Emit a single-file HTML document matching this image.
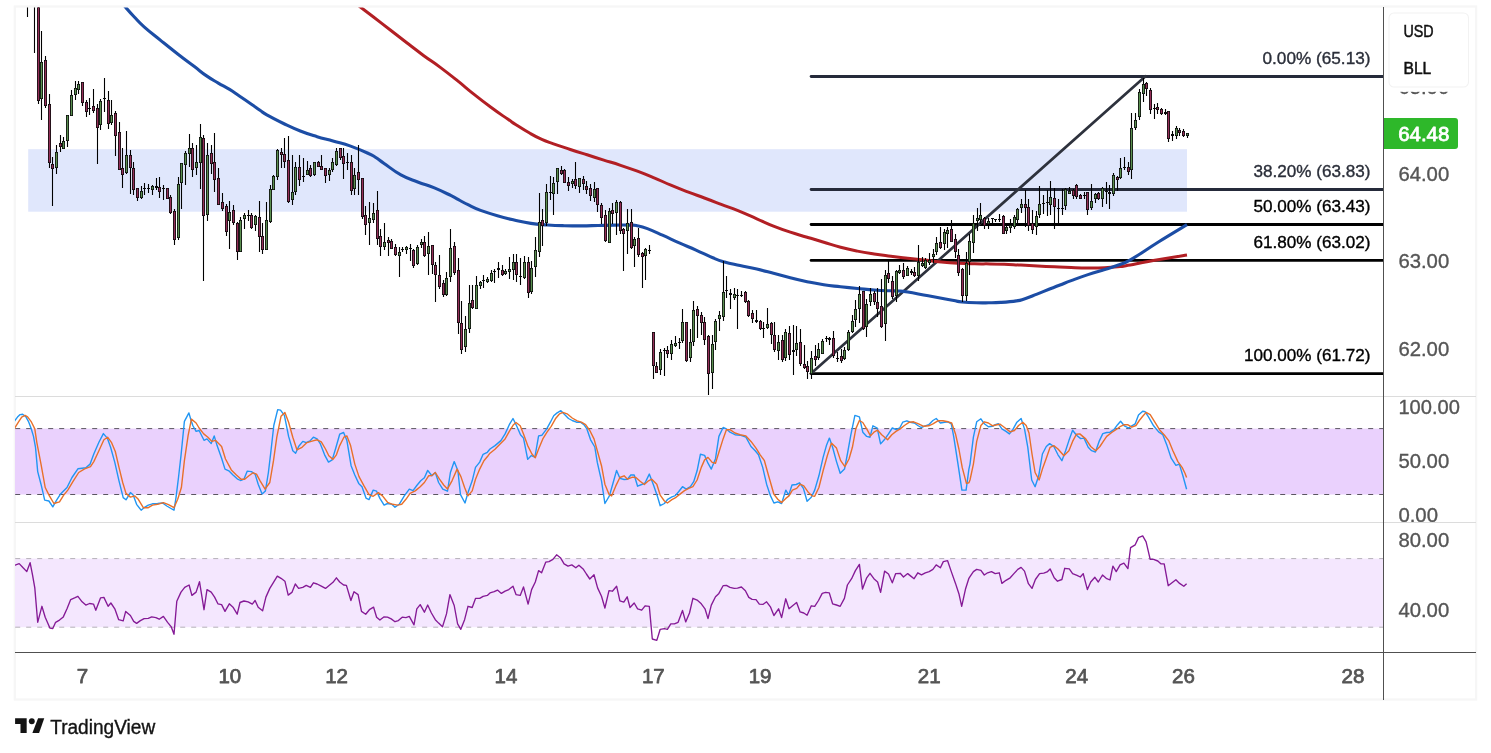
<!DOCTYPE html>
<html lang="en"><head><meta charset="utf-8"><title>TradingView chart</title>
<style>html,body{margin:0;padding:0;background:#fff;overflow:hidden}svg{display:block}text{font-family:'Liberation Sans', Arial, sans-serif}.w{stroke-width:0.35px;paint-order:stroke}</style>
</head><body>
<svg width="1491" height="753" viewBox="0 0 1491 753">
<rect width="1491" height="753" fill="#ffffff"/>
<rect x="14.8" y="6.5" width="1461.3" height="693" fill="#ffffff" stroke="#f6f6f6" stroke-width="2.2"/>
<defs><clipPath id="cm"><rect x="16" y="7.5" width="1367" height="389"/></clipPath><clipPath id="cs"><rect x="15" y="397" width="1368" height="125"/></clipPath><clipPath id="cr"><rect x="15" y="523" width="1368" height="129"/></clipPath></defs>
<g clip-path="url(#cm)">
<rect x="28.2" y="149.2" width="1158.8" height="62.5" fill="#e0e7fc"/>
<line x1="811.1" y1="76.5" x2="1386" y2="76.5" stroke="#252a3a" stroke-width="2.8" stroke-linecap="round"/>
<line x1="811.1" y1="189.5" x2="1386" y2="189.5" stroke="#252a3a" stroke-width="2.8" stroke-linecap="round"/>
<line x1="811.1" y1="224.5" x2="1386" y2="224.5" stroke="#000" stroke-width="2.8" stroke-linecap="round"/>
<line x1="811.1" y1="260.4" x2="1386" y2="260.4" stroke="#000" stroke-width="2.8" stroke-linecap="round"/>
<line x1="811.1" y1="373.6" x2="1386" y2="373.6" stroke="#000" stroke-width="2.8" stroke-linecap="round"/>
<line x1="811" y1="373.6" x2="1145.5" y2="76.3" stroke="#2e323d" stroke-width="2.7" stroke-linecap="round"/>
<path d="M359 6C362.4 8.6 366.2 11.4 373.5 17C380.8 22.6 382.5 24 390.3 30C398.1 36.1 399.3 37 407.1 43C414.9 49 416 49.9 423.8 55.7C431.6 61.4 432.8 61.8 440.6 67.6C448.4 73.4 449.6 74.4 457.4 80.7C465.2 86.9 466.3 88.2 474.1 94.4C481.9 100.6 483.1 101.5 490.9 107.3C498.7 113.1 501.8 115 507.7 119.1C513.6 123.1 510.8 121.4 516 124.7C521.2 128 524 129.9 530 133.3C536 136.8 536.3 137 541.8 139.4C547.3 141.9 546.9 141.5 553.5 143.8C560.1 146.2 562.5 146.9 570.3 149.5C578.1 152.1 579.3 152.4 587.1 154.8C594.9 157.3 596 157.6 603.8 160.1C611.6 162.5 612.8 162.7 620.6 165.3C628.4 167.9 629.6 168.3 637.4 171.2C645.2 174.1 646.3 174.6 654.1 177.9C661.9 181.1 663.1 181.9 670.9 185.1C678.7 188.4 679.9 188.8 687.7 191.8C695.5 194.8 696.6 195.1 704.4 198C712.2 200.9 713.4 201.4 721.2 204.4C729 207.3 729.7 207.3 738 210.6C746.3 214 748.5 215.2 756.8 218.8C765.1 222.4 765.7 223 773.5 226.1C781.3 229.2 782.5 229.6 790.3 232.2C798.1 234.7 799.3 234.8 807.1 237.2C814.9 239.5 816 239.8 823.8 242.2C831.6 244.5 832.8 245.1 840.6 247.2C848.4 249.3 849.6 249.5 857.4 251.1C865.2 252.7 866.3 252.8 874.1 254C881.9 255.1 883.1 255.2 890.9 256.2C898.7 257.2 899.9 257.3 907.7 258.2C915.5 259.1 916.6 259.2 924.4 260C932.2 260.9 933.4 261.1 941.2 261.9C949 262.6 950.2 262.7 958 263.2C965.8 263.6 967.2 263.6 974.7 263.8C982.2 264 983.1 263.8 990 263.9C996.9 264 996.9 264 1004.1 264.2C1011.3 264.5 1013.1 264.7 1020.9 265.1C1028.7 265.5 1029.9 265.6 1037.7 266C1045.5 266.4 1046.6 266.4 1054.4 266.8C1062.2 267.2 1063.4 267.3 1071.2 267.6C1079 267.9 1080.2 268 1088 268.1C1095.8 268.2 1097.2 268.2 1104.7 267.8C1112.2 267.5 1115.1 267.1 1120 266.6C1124.9 266.1 1117 267.3 1125.9 265.7C1134.8 264.1 1143.7 262.3 1158 259.8C1172.3 257.3 1180.2 256.1 1187 255" fill="none" stroke="#b21f24" stroke-width="3" stroke-linejoin="round" stroke-linecap="butt"/>
<path d="M124.5 6C126.7 8.5 129.5 11.9 134.1 16.7C138.7 21.6 137.8 21.3 144.1 26.8C150.4 32.4 153.1 34.2 160.9 40.6C168.7 46.9 169.9 47.9 177.7 54C185.5 60.1 187.8 61.6 194.4 66.6C201.1 71.7 200.7 71.9 206.2 75.6C211.7 79.4 212.4 79.6 217.9 82.8C223.4 86.1 224.5 86.3 229.6 89.4C234.7 92.5 234.6 92.8 239.7 96.2C244.8 99.6 246.7 100.9 251.4 104.2C256.1 107.5 256.4 107.8 260 110.3C263.6 112.8 261.3 111.8 266.8 114.9C272.3 118 275.7 119.7 283.5 123.5C291.3 127.2 292.5 127.9 300.3 131C308.1 134.1 309.3 134.3 317.1 136.7C324.9 139 326 138.9 333.8 141.2C341.6 143.4 342.8 143.4 350.6 146.1C358.4 148.9 361.5 150.3 367.4 153C373.3 155.6 371.9 155 375.8 157.5C379.7 159.9 378.2 159.3 384.1 163.4C390 167.5 393.1 170.6 400.9 174.9C408.7 179.2 409.9 179 417.7 182C425.5 185.1 426.6 184.7 434.4 187.9C442.2 191.1 445.2 192.8 451.2 195.7C457.2 198.7 456.1 198.4 460 200.5C463.9 202.6 463.2 202.4 468 204.7C472.8 207 473.7 207.8 480.6 210.4C487.5 212.9 489.6 213.5 497.4 215.7C505.2 218 506.3 218.2 514.1 220C521.9 221.8 523.1 222.3 530.9 223.4C538.7 224.6 539.9 224.4 547.7 225C555.5 225.5 556.6 225.5 564.4 225.7C572.2 225.9 573.4 225.9 581.2 225.9C589 225.8 590.2 225.7 598 225.5C605.8 225.3 607.2 225.2 614.7 225.1C622.2 225 624.8 225 630 225.1C635.2 225.3 632.9 224.9 637 225.7C641.1 226.5 641.4 226.4 647.4 228.6C653.4 230.8 655.1 231.8 662.5 235.2C669.9 238.5 671.5 239.4 679.3 242.9C687.1 246.4 688.2 246.6 696 250.1C703.8 253.6 706.1 255 712.8 257.8C719.5 260.6 718.3 260.2 724.6 262C730.9 263.8 732.5 263.9 740 265.6C747.5 267.2 749 267.3 756.8 269.1C764.6 270.9 765.7 271.3 773.5 273.3C781.3 275.3 782.5 275.7 790.3 277.7C798.1 279.7 799.3 280 807.1 281.7C814.9 283.3 816 283.6 823.8 284.8C831.6 286 832.8 285.9 840.6 286.8C848.4 287.6 849.6 287.7 857.4 288.5C865.2 289.2 866.3 289.5 874.1 290C881.9 290.6 885.3 290.6 890.9 290.8C896.5 291.1 894.2 290.7 898.1 291C902 291.3 900.8 290.9 907.8 292C914.8 293.1 917.9 293.9 928.3 295.8C938.7 297.8 944.5 298.9 952.4 300.3C960.3 301.8 956.5 301.4 962.1 302C967.7 302.5 970.4 302.6 976.6 302.8C982.8 303 983.1 302.9 988.7 302.8C994.3 302.7 994.2 302.8 1000.7 302.4C1007.2 302 1010.8 301.8 1016.4 300.9C1022 300.1 1020.1 300.3 1024.9 298.8C1029.7 297.2 1031.4 296.3 1037 294.1C1042.6 291.9 1043.6 291.5 1049 289.3C1054.4 287.2 1054.8 287.1 1060 285C1065.2 283 1064.7 283 1071.2 280.6C1077.7 278.2 1080.2 277.2 1088 274.6C1095.8 272 1097.2 271.8 1104.7 269.5C1112.2 267.1 1113.8 266.8 1120 264.5C1126.2 262.1 1122.3 264.6 1131.2 259.4C1140.1 254.2 1145 250.4 1158 242.2C1171 234.1 1180.2 228.7 1187 224.6" fill="none" stroke="#1c4da5" stroke-width="3.1" stroke-linejoin="round" stroke-linecap="butt"/>
<path d="M27.5 0V17M34.5 0V53M38.5 0V104M41.5 31V120M45.5 56V108M49.5 94V168M52.5 157V206M56.5 145V174M60.5 135V152M63.5 137V149M67.5 115V147M71.5 90V116M75.5 81V100M78.5 81V94M82.5 82V106M86.5 100V117M89.5 98V115M93.5 89V113M97.5 104V164M100.5 99V130M104.5 78V112M108.5 91V129M111.5 100V125M115.5 111V156M119.5 122V170M122.5 148V188M126.5 131V174M130.5 150V194M133.5 162V195M137.5 188V201M141.5 186V199M144.5 183V195M148.5 184V193M152.5 185V195M156.5 178V190M159.5 177V198M163.5 185V200M167.5 188V199M170.5 195V214M174.5 209V245M178.5 177V240M181.5 163V209M185.5 151V185M189.5 134V167M192.5 143V177M196.5 145V175M200.5 124V189M203.5 135V281M207.5 143V221M211.5 145V174M214.5 133V192M218.5 168V205M222.5 193V211M226.5 204V236M229.5 201V249M233.5 205V225M237.5 222V260M240.5 217V252M244.5 213V229M248.5 210V221M251.5 213V229M255.5 215V231M259.5 201V252M262.5 223V254M266.5 202V250M270.5 185V223M273.5 175V190M277.5 149V180M281.5 148V168M284.5 138V168M288.5 136V203M292.5 155V205M295.5 162V195M299.5 155V186M303.5 158V182M307.5 161V175M310.5 165V177M314.5 162V176M318.5 161V167M321.5 155V170M325.5 168V183M329.5 168V181M332.5 158V172M336.5 148V166M340.5 148V160M343.5 148V179M347.5 153V170M351.5 155V195M354.5 168V195M358.5 145V195M362.5 178V219M365.5 206V235M369.5 202V245M373.5 203V223M377.5 191V245M380.5 229V256M384.5 223V250M388.5 237V256M391.5 239V249M395.5 244V256M399.5 247V277M402.5 247V252M406.5 246V254M410.5 244V261M413.5 249V268M417.5 245V265M421.5 239V248M424.5 236V257M428.5 232V275M432.5 245V274M435.5 262V302M439.5 255V289M443.5 280V297M446.5 272V296M450.5 229V282M454.5 242V275M458.5 258V334M461.5 301V354M465.5 316V352M469.5 285V333M472.5 285V309M476.5 276V309M480.5 281V289M483.5 275V288M487.5 277V283M491.5 270V282M494.5 269V283M498.5 262V278M502.5 265V276M505.5 269V275M509.5 257V279M513.5 254V280M516.5 254V282M520.5 258V285M524.5 256V279M528.5 257V298M531.5 261V294M535.5 237V277M539.5 193V257M542.5 209V246M546.5 184V226M550.5 176V200M553.5 177V215M557.5 168V194M561.5 166V175M564.5 169V183M568.5 177V191M572.5 179V188M575.5 162V189M579.5 178V193M583.5 176V190M586.5 181V194M590.5 184V201M594.5 182V202M597.5 188V212M601.5 203V224M605.5 210V242M609.5 208V243M612.5 203V224M616.5 200V235M620.5 201V234M623.5 228V271M627.5 209V254M631.5 209V249M634.5 237V267M638.5 228V257M642.5 252V288M645.5 248V280M649.5 245V254M653.5 332V379M656.5 362V373M660.5 349V375M664.5 348V376M667.5 346V358M671.5 340V360M675.5 336V347M679.5 338V349M682.5 309V343M686.5 322V362M690.5 329V362M693.5 301V346M697.5 306V338M701.5 312V335M704.5 317V345M708.5 335V395M712.5 335V389M715.5 319V350M719.5 311V331M723.5 261V321M726.5 276V298M730.5 289V309M734.5 288V300M737.5 289V329M741.5 291V297M745.5 291V303M748.5 300V317M752.5 310V323M756.5 310V323M760.5 320V330M763.5 322V338M767.5 308V329M771.5 322V344M774.5 322V352M778.5 335V360M782.5 335V362M785.5 329V361M789.5 326V360M793.5 325V375M796.5 326V356M800.5 329V366M804.5 345V369M807.5 361V379M811.5 351V379M815.5 345V366M818.5 343V360M822.5 339V354M826.5 336V342M829.5 337V345M833.5 331V358M837.5 352V362M841.5 349V363M844.5 347V360M848.5 330V351M852.5 315V333M855.5 300V327M859.5 286V323M863.5 291V330M866.5 299V337M870.5 288V306M874.5 291V305M877.5 288V317M881.5 279V328M885.5 270V341M888.5 260V283M892.5 276V299M896.5 270V302M899.5 265V274M903.5 263V279M907.5 266V276M911.5 269V275M914.5 267V277M918.5 245V281M922.5 257V267M925.5 258V269M929.5 253V265M933.5 249V263M936.5 237V255M940.5 227V249M944.5 229V250M947.5 227V248M951.5 220V242M955.5 234V258M958.5 249V276M962.5 268V302M966.5 252V301M969.5 234V275M973.5 215V253M977.5 208V231M980.5 203V224M984.5 217V229M988.5 218V229M992.5 218V223M995.5 219V222M999.5 214V222M1003.5 215V234M1006.5 223V234M1010.5 219V233M1014.5 215V229M1017.5 208V223M1021.5 199V213M1025.5 190V227M1028.5 199V231M1032.5 210V234M1036.5 211V235M1039.5 186V218M1043.5 195V214M1047.5 190V216M1050.5 181V215M1054.5 188V229M1058.5 199V224M1062.5 189V215M1065.5 188V210M1069.5 187V194M1073.5 189V199M1076.5 184V199M1080.5 194V199M1084.5 192V199M1087.5 192V215M1091.5 184V210M1095.5 193V203M1098.5 192V200M1102.5 187V207M1106.5 182V204M1109.5 185V209M1113.5 173V196M1117.5 176V191M1120.5 158V179M1124.5 157V170M1128.5 162V175M1131.5 113V179M1135.5 113V130M1139.5 89V120M1143.5 78V102M1146.5 82V96M1150.5 88V114M1154.5 104V119M1157.5 103V114M1161.5 108V115M1165.5 109V115M1168.5 111V142M1172.5 131V141M1176.5 126V139M1179.5 128V136M1183.5 129V137M1187.5 133V138" stroke="#000" stroke-width="1.1" fill="none"/>
<path d="M26 0h3v1h-3zM33 0h3v1h-3zM37 0h3v101h-3zM40 62h3v37h-3zM44 60h3v46h-3zM48 104h3v59h-3zM51 164h3v5h-3zM55 152h3v16h-3zM59 143h3v4h-3zM62 141h3v8h-3zM66 115h3v26h-3zM70 95h3v21h-3zM74 88h3v7h-3zM77 84h3v6h-3zM81 82h3v21h-3zM85 102h3v10h-3zM88 108h3v1h-3zM92 106h3v5h-3zM96 108h3v20h-3zM99 101h3v24h-3zM103 98h3v1h-3zM107 100h3v24h-3zM110 115h3v8h-3zM114 113h3v23h-3zM118 132h3v38h-3zM121 168h3v7h-3zM125 155h3v18h-3zM129 155h3v13h-3zM132 168h3v22h-3zM136 188h3v10h-3zM140 191h3v7h-3zM143 188h3v1h-3zM147 188h3v1h-3zM151 186h3v4h-3zM155 186h3v2h-3zM158 187h3v5h-3zM162 188h3v1h-3zM166 188h3v11h-3zM169 197h3v16h-3zM173 211h3v29h-3zM177 184h3v54h-3zM180 163h3v20h-3zM184 153h3v12h-3zM188 148h3v6h-3zM191 148h3v22h-3zM195 162h3v6h-3zM199 137h3v26h-3zM202 138h3v78h-3zM206 155h3v60h-3zM210 153h3v11h-3zM213 162h3v18h-3zM217 178h3v27h-3zM221 202h3v7h-3zM225 206h3v26h-3zM228 212h3v9h-3zM232 210h3v13h-3zM236 223h3v29h-3zM239 220h3v32h-3zM243 215h3v4h-3zM247 215h3v1h-3zM250 215h3v13h-3zM254 216h3v9h-3zM258 217h3v20h-3zM261 236h3v14h-3zM265 220h3v30h-3zM269 189h3v33h-3zM272 176h3v14h-3zM276 150h3v27h-3zM280 152h3v3h-3zM283 154h3v8h-3zM287 160h3v42h-3zM291 192h3v8h-3zM294 167h3v25h-3zM298 167h3v13h-3zM302 176h3v1h-3zM306 170h3v5h-3zM309 168h3v8h-3zM313 162h3v13h-3zM317 162h3v5h-3zM320 166h3v4h-3zM324 168h3v8h-3zM328 170h3v5h-3zM331 162h3v8h-3zM335 151h3v14h-3zM339 148h3v10h-3zM342 156h3v8h-3zM346 162h3v1h-3zM350 162h3v29h-3zM353 175h3v14h-3zM357 172h3v8h-3zM361 178h3v39h-3zM364 215h3v10h-3zM368 218h3v5h-3zM372 213h3v7h-3zM376 210h3v29h-3zM379 236h3v11h-3zM383 242h3v5h-3zM387 240h3v3h-3zM390 241h3v8h-3zM394 247h3v8h-3zM398 252h3v4h-3zM401 249h3v1h-3zM405 247h3v3h-3zM409 248h3v1h-3zM412 250h3v16h-3zM416 247h3v17h-3zM420 242h3v3h-3zM423 242h3v14h-3zM427 246h3v8h-3zM431 245h3v20h-3zM434 265h3v10h-3zM438 275h3v12h-3zM442 283h3v12h-3zM445 278h3v17h-3zM449 248h3v29h-3zM453 246h3v27h-3zM457 270h3v53h-3zM460 323h3v27h-3zM464 329h3v18h-3zM468 303h3v26h-3zM471 300h3v8h-3zM475 285h3v24h-3zM479 282h3v4h-3zM482 280h3v1h-3zM486 279h3v3h-3zM490 273h3v8h-3zM493 271h3v1h-3zM497 268h3v2h-3zM501 270h3v5h-3zM504 271h3v3h-3zM508 269h3v3h-3zM512 262h3v8h-3zM515 262h3v13h-3zM519 276h3v1h-3zM523 262h3v16h-3zM527 262h3v31h-3zM530 268h3v24h-3zM534 250h3v17h-3zM538 222h3v30h-3zM541 220h3v6h-3zM545 192h3v31h-3zM549 192h3v1h-3zM552 183h3v11h-3zM556 168h3v14h-3zM560 170h3v4h-3zM563 170h3v13h-3zM567 182h3v4h-3zM571 181h3v3h-3zM574 179h3v7h-3zM578 178h3v9h-3zM582 179h3v5h-3zM585 186h3v4h-3zM589 188h3v8h-3zM593 189h3v9h-3zM596 188h3v17h-3zM600 205h3v13h-3zM604 215h3v26h-3zM608 211h3v32h-3zM611 210h3v4h-3zM615 202h3v11h-3zM619 202h3v29h-3zM622 229h3v5h-3zM626 223h3v8h-3zM630 222h3v26h-3zM633 239h3v7h-3zM637 238h3v17h-3zM641 253h3v4h-3zM644 249h3v7h-3zM648 250h3v1h-3zM652 332h3v34h-3zM655 366h3v7h-3zM659 352h3v18h-3zM663 350h3v1h-3zM666 350h3v4h-3zM670 344h3v10h-3zM674 343h3v3h-3zM678 342h3v1h-3zM681 322h3v19h-3zM685 322h3v39h-3zM689 342h3v16h-3zM692 310h3v32h-3zM696 309h3v7h-3zM700 315h3v8h-3zM703 322h3v18h-3zM707 336h3v38h-3zM711 344h3v29h-3zM714 321h3v21h-3zM718 315h3v4h-3zM722 292h3v25h-3zM725 290h3v1h-3zM729 293h3v2h-3zM733 294h3v4h-3zM736 295h3v1h-3zM740 295h3v1h-3zM744 292h3v10h-3zM747 301h3v15h-3zM751 313h3v6h-3zM755 320h3v2h-3zM759 321h3v8h-3zM762 328h3v1h-3zM766 324h3v4h-3zM770 323h3v12h-3zM773 335h3v15h-3zM777 342h3v9h-3zM781 340h3v20h-3zM784 332h3v26h-3zM788 333h3v22h-3zM792 350h3v2h-3zM795 343h3v7h-3zM799 342h3v22h-3zM803 364h3v4h-3zM806 366h3v6h-3zM810 358h3v16h-3zM814 356h3v4h-3zM817 349h3v9h-3zM821 341h3v13h-3zM825 338h3v1h-3zM828 338h3v2h-3zM832 338h3v18h-3zM836 358h3v1h-3zM840 356h3v5h-3zM843 350h3v9h-3zM847 332h3v18h-3zM851 321h3v11h-3zM854 309h3v11h-3zM858 294h3v15h-3zM862 291h3v38h-3zM865 304h3v23h-3zM869 294h3v8h-3zM873 293h3v9h-3zM876 302h3v7h-3zM880 306h3v21h-3zM884 275h3v49h-3zM887 273h3v6h-3zM891 281h3v16h-3zM895 271h3v25h-3zM898 270h3v3h-3zM902 270h3v7h-3zM906 268h3v8h-3zM910 271h3v2h-3zM913 272h3v4h-3zM917 262h3v14h-3zM921 263h3v3h-3zM924 260h3v8h-3zM928 260h3v3h-3zM932 254h3v3h-3zM935 243h3v9h-3zM939 242h3v6h-3zM943 232h3v12h-3zM946 230h3v4h-3zM950 229h3v13h-3zM954 239h3v13h-3zM957 255h3v18h-3zM961 269h3v27h-3zM965 263h3v33h-3zM968 241h3v21h-3zM972 223h3v20h-3zM976 218h3v3h-3zM979 215h3v5h-3zM983 218h3v8h-3zM987 221h3v3h-3zM991 218h3v1h-3zM994 219h3v1h-3zM998 219h3v1h-3zM1002 216h3v18h-3zM1005 227h3v4h-3zM1009 225h3v3h-3zM1013 217h3v10h-3zM1016 209h3v11h-3zM1020 204h3v4h-3zM1024 204h3v4h-3zM1027 207h3v19h-3zM1031 223h3v7h-3zM1035 216h3v11h-3zM1038 204h3v11h-3zM1042 203h3v1h-3zM1046 202h3v1h-3zM1049 197h3v8h-3zM1053 198h3v9h-3zM1057 208h3v1h-3zM1061 208h3v1h-3zM1064 189h3v17h-3zM1068 191h3v3h-3zM1072 190h3v6h-3zM1075 185h3v12h-3zM1079 195h3v4h-3zM1083 195h3v1h-3zM1086 192h3v18h-3zM1090 201h3v7h-3zM1094 194h3v5h-3zM1097 193h3v6h-3zM1101 188h3v11h-3zM1105 191h3v1h-3zM1108 192h3v2h-3zM1112 175h3v19h-3zM1116 177h3v3h-3zM1119 168h3v10h-3zM1123 167h3v1h-3zM1127 167h3v5h-3zM1130 128h3v42h-3zM1134 120h3v8h-3zM1138 92h3v25h-3zM1142 84h3v10h-3zM1145 83h3v6h-3zM1149 90h3v20h-3zM1153 108h3v1h-3zM1156 107h3v3h-3zM1160 109h3v5h-3zM1164 112h3v2h-3zM1167 111h3v28h-3zM1171 134h3v2h-3zM1175 128h3v8h-3zM1178 130h3v3h-3zM1182 131h3v5h-3zM1186 133h3v3h-3z" fill="#0a0a0a"/>
<path d="M40.8 62.8h1.4v35.4h-1.4zM55.8 152.8h1.4v14.4h-1.4zM62.8 141.8h1.4v6.4h-1.4zM66.8 115.8h1.4v24.4h-1.4zM70.8 95.8h1.4v19.4h-1.4zM74.8 88.8h1.4v5.4h-1.4zM77.8 84.8h1.4v4.4h-1.4zM99.8 101.8h1.4v22.4h-1.4zM110.8 115.8h1.4v6.4h-1.4zM125.8 155.8h1.4v16.4h-1.4zM140.8 191.8h1.4v5.4h-1.4zM151.8 186.8h1.4v2.4h-1.4zM177.8 184.8h1.4v52.4h-1.4zM180.8 163.8h1.4v18.4h-1.4zM184.8 153.8h1.4v10.4h-1.4zM188.8 148.8h1.4v4.4h-1.4zM195.8 162.8h1.4v4.4h-1.4zM199.8 137.8h1.4v24.4h-1.4zM206.8 155.8h1.4v58.4h-1.4zM228.8 212.8h1.4v7.4h-1.4zM239.8 220.8h1.4v30.4h-1.4zM243.8 215.8h1.4v2.4h-1.4zM254.8 216.8h1.4v7.4h-1.4zM265.8 220.8h1.4v28.4h-1.4zM269.8 189.8h1.4v31.4h-1.4zM272.8 176.8h1.4v12.4h-1.4zM276.8 150.8h1.4v25.4h-1.4zM291.8 192.8h1.4v6.4h-1.4zM294.8 167.8h1.4v23.4h-1.4zM306.8 170.8h1.4v3.4h-1.4zM313.8 162.8h1.4v11.4h-1.4zM328.8 170.8h1.4v3.4h-1.4zM331.8 162.8h1.4v6.4h-1.4zM335.8 151.8h1.4v12.4h-1.4zM353.8 175.8h1.4v12.4h-1.4zM368.8 218.8h1.4v3.4h-1.4zM372.8 213.8h1.4v5.4h-1.4zM383.8 242.8h1.4v3.4h-1.4zM398.8 252.8h1.4v2.4h-1.4zM405.8 247.8h1.4v1.4h-1.4zM416.8 247.8h1.4v15.4h-1.4zM420.8 242.8h1.4v1.4h-1.4zM427.8 246.8h1.4v6.4h-1.4zM445.8 278.8h1.4v15.4h-1.4zM449.8 248.8h1.4v27.4h-1.4zM464.8 329.8h1.4v16.4h-1.4zM468.8 303.8h1.4v24.4h-1.4zM475.8 285.8h1.4v22.4h-1.4zM479.8 282.8h1.4v2.4h-1.4zM486.8 279.8h1.4v1.4h-1.4zM490.8 273.8h1.4v6.4h-1.4zM504.8 271.8h1.4v1.4h-1.4zM508.8 269.8h1.4v1.4h-1.4zM512.8 262.8h1.4v6.4h-1.4zM523.8 262.8h1.4v14.4h-1.4zM530.8 268.8h1.4v22.4h-1.4zM534.8 250.8h1.4v15.4h-1.4zM538.8 222.8h1.4v28.4h-1.4zM545.8 192.8h1.4v29.4h-1.4zM552.8 183.8h1.4v9.4h-1.4zM556.8 168.8h1.4v12.4h-1.4zM571.8 181.8h1.4v1.4h-1.4zM578.8 178.8h1.4v7.4h-1.4zM593.8 189.8h1.4v7.4h-1.4zM608.8 211.8h1.4v30.4h-1.4zM615.8 202.8h1.4v9.4h-1.4zM626.8 223.8h1.4v6.4h-1.4zM633.8 239.8h1.4v5.4h-1.4zM644.8 249.8h1.4v5.4h-1.4zM659.8 352.8h1.4v16.4h-1.4zM670.8 344.8h1.4v8.4h-1.4zM674.8 343.8h1.4v1.4h-1.4zM681.8 322.8h1.4v17.4h-1.4zM689.8 342.8h1.4v14.4h-1.4zM692.8 310.8h1.4v30.4h-1.4zM711.8 344.8h1.4v27.4h-1.4zM714.8 321.8h1.4v19.4h-1.4zM718.8 315.8h1.4v2.4h-1.4zM722.8 292.8h1.4v23.4h-1.4zM733.8 294.8h1.4v2.4h-1.4zM766.8 324.8h1.4v2.4h-1.4zM777.8 342.8h1.4v7.4h-1.4zM784.8 332.8h1.4v24.4h-1.4zM795.8 343.8h1.4v5.4h-1.4zM810.8 358.8h1.4v14.4h-1.4zM817.8 349.8h1.4v7.4h-1.4zM821.8 341.8h1.4v11.4h-1.4zM843.8 350.8h1.4v7.4h-1.4zM847.8 332.8h1.4v16.4h-1.4zM851.8 321.8h1.4v9.4h-1.4zM854.8 309.8h1.4v9.4h-1.4zM858.8 294.8h1.4v13.4h-1.4zM865.8 304.8h1.4v21.4h-1.4zM869.8 294.8h1.4v6.4h-1.4zM884.8 275.8h1.4v47.4h-1.4zM895.8 271.8h1.4v23.4h-1.4zM898.8 270.8h1.4v1.4h-1.4zM906.8 268.8h1.4v6.4h-1.4zM917.8 262.8h1.4v12.4h-1.4zM921.8 263.8h1.4v1.4h-1.4zM924.8 260.8h1.4v6.4h-1.4zM928.8 260.8h1.4v1.4h-1.4zM932.8 254.8h1.4v1.4h-1.4zM935.8 243.8h1.4v7.4h-1.4zM943.8 232.8h1.4v10.4h-1.4zM946.8 230.8h1.4v2.4h-1.4zM965.8 263.8h1.4v31.4h-1.4zM968.8 241.8h1.4v19.4h-1.4zM972.8 223.8h1.4v18.4h-1.4zM976.8 218.8h1.4v1.4h-1.4zM979.8 215.8h1.4v3.4h-1.4zM987.8 221.8h1.4v1.4h-1.4zM1005.8 227.8h1.4v2.4h-1.4zM1009.8 225.8h1.4v1.4h-1.4zM1013.8 217.8h1.4v8.4h-1.4zM1016.8 209.8h1.4v9.4h-1.4zM1020.8 204.8h1.4v2.4h-1.4zM1035.8 216.8h1.4v9.4h-1.4zM1038.8 204.8h1.4v9.4h-1.4zM1049.8 197.8h1.4v6.4h-1.4zM1064.8 189.8h1.4v15.4h-1.4zM1068.8 191.8h1.4v1.4h-1.4zM1090.8 201.8h1.4v5.4h-1.4zM1094.8 194.8h1.4v3.4h-1.4zM1101.8 188.8h1.4v9.4h-1.4zM1112.8 175.8h1.4v17.4h-1.4zM1119.8 168.8h1.4v8.4h-1.4zM1130.8 128.8h1.4v40.4h-1.4zM1134.8 120.8h1.4v6.4h-1.4zM1138.8 92.8h1.4v23.4h-1.4zM1142.8 84.8h1.4v8.4h-1.4zM1175.8 128.8h1.4v6.4h-1.4zM1186.8 133.8h1.4v1.4h-1.4z" fill="#5a8f50"/>
<path d="M37.8 0.8h1.4v99.4h-1.4zM44.8 60.8h1.4v44.4h-1.4zM48.8 104.8h1.4v57.4h-1.4zM51.8 164.8h1.4v3.4h-1.4zM59.8 143.8h1.4v2.4h-1.4zM81.8 82.8h1.4v19.4h-1.4zM85.8 102.8h1.4v8.4h-1.4zM92.8 106.8h1.4v3.4h-1.4zM96.8 108.8h1.4v18.4h-1.4zM107.8 100.8h1.4v22.4h-1.4zM114.8 113.8h1.4v21.4h-1.4zM118.8 132.8h1.4v36.4h-1.4zM121.8 168.8h1.4v5.4h-1.4zM129.8 155.8h1.4v11.4h-1.4zM132.8 168.8h1.4v20.4h-1.4zM136.8 188.8h1.4v8.4h-1.4zM158.8 187.8h1.4v3.4h-1.4zM166.8 188.8h1.4v9.4h-1.4zM169.8 197.8h1.4v14.4h-1.4zM173.8 211.8h1.4v27.4h-1.4zM191.8 148.8h1.4v20.4h-1.4zM202.8 138.8h1.4v76.4h-1.4zM210.8 153.8h1.4v9.4h-1.4zM213.8 162.8h1.4v16.4h-1.4zM217.8 178.8h1.4v25.4h-1.4zM221.8 202.8h1.4v5.4h-1.4zM225.8 206.8h1.4v24.4h-1.4zM232.8 210.8h1.4v11.4h-1.4zM236.8 223.8h1.4v27.4h-1.4zM250.8 215.8h1.4v11.4h-1.4zM258.8 217.8h1.4v18.4h-1.4zM261.8 236.8h1.4v12.4h-1.4zM280.8 152.8h1.4v1.4h-1.4zM283.8 154.8h1.4v6.4h-1.4zM287.8 160.8h1.4v40.4h-1.4zM298.8 167.8h1.4v11.4h-1.4zM309.8 168.8h1.4v6.4h-1.4zM317.8 162.8h1.4v3.4h-1.4zM320.8 166.8h1.4v2.4h-1.4zM324.8 168.8h1.4v6.4h-1.4zM339.8 148.8h1.4v8.4h-1.4zM342.8 156.8h1.4v6.4h-1.4zM350.8 162.8h1.4v27.4h-1.4zM357.8 172.8h1.4v6.4h-1.4zM361.8 178.8h1.4v37.4h-1.4zM364.8 215.8h1.4v8.4h-1.4zM376.8 210.8h1.4v27.4h-1.4zM379.8 236.8h1.4v9.4h-1.4zM387.8 240.8h1.4v1.4h-1.4zM390.8 241.8h1.4v6.4h-1.4zM394.8 247.8h1.4v6.4h-1.4zM412.8 250.8h1.4v14.4h-1.4zM423.8 242.8h1.4v12.4h-1.4zM431.8 245.8h1.4v18.4h-1.4zM434.8 265.8h1.4v8.4h-1.4zM438.8 275.8h1.4v10.4h-1.4zM442.8 283.8h1.4v10.4h-1.4zM453.8 246.8h1.4v25.4h-1.4zM457.8 270.8h1.4v51.4h-1.4zM460.8 323.8h1.4v25.4h-1.4zM471.8 300.8h1.4v6.4h-1.4zM501.8 270.8h1.4v3.4h-1.4zM515.8 262.8h1.4v11.4h-1.4zM527.8 262.8h1.4v29.4h-1.4zM541.8 220.8h1.4v4.4h-1.4zM560.8 170.8h1.4v2.4h-1.4zM563.8 170.8h1.4v11.4h-1.4zM567.8 182.8h1.4v2.4h-1.4zM574.8 179.8h1.4v5.4h-1.4zM582.8 179.8h1.4v3.4h-1.4zM585.8 186.8h1.4v2.4h-1.4zM589.8 188.8h1.4v6.4h-1.4zM596.8 188.8h1.4v15.4h-1.4zM600.8 205.8h1.4v11.4h-1.4zM604.8 215.8h1.4v24.4h-1.4zM611.8 210.8h1.4v2.4h-1.4zM619.8 202.8h1.4v27.4h-1.4zM622.8 229.8h1.4v3.4h-1.4zM630.8 222.8h1.4v24.4h-1.4zM637.8 238.8h1.4v15.4h-1.4zM641.8 253.8h1.4v2.4h-1.4zM652.8 332.8h1.4v32.4h-1.4zM655.8 366.8h1.4v5.4h-1.4zM666.8 350.8h1.4v2.4h-1.4zM685.8 322.8h1.4v37.4h-1.4zM696.8 309.8h1.4v5.4h-1.4zM700.8 315.8h1.4v6.4h-1.4zM703.8 322.8h1.4v16.4h-1.4zM707.8 336.8h1.4v36.4h-1.4zM744.8 292.8h1.4v8.4h-1.4zM747.8 301.8h1.4v13.4h-1.4zM751.8 313.8h1.4v4.4h-1.4zM759.8 321.8h1.4v6.4h-1.4zM770.8 323.8h1.4v10.4h-1.4zM773.8 335.8h1.4v13.4h-1.4zM781.8 340.8h1.4v18.4h-1.4zM788.8 333.8h1.4v20.4h-1.4zM799.8 342.8h1.4v20.4h-1.4zM803.8 364.8h1.4v2.4h-1.4zM806.8 366.8h1.4v4.4h-1.4zM814.8 356.8h1.4v2.4h-1.4zM832.8 338.8h1.4v16.4h-1.4zM840.8 356.8h1.4v3.4h-1.4zM862.8 291.8h1.4v36.4h-1.4zM873.8 293.8h1.4v7.4h-1.4zM876.8 302.8h1.4v5.4h-1.4zM880.8 306.8h1.4v19.4h-1.4zM887.8 273.8h1.4v4.4h-1.4zM891.8 281.8h1.4v14.4h-1.4zM902.8 270.8h1.4v5.4h-1.4zM913.8 272.8h1.4v2.4h-1.4zM939.8 242.8h1.4v4.4h-1.4zM950.8 229.8h1.4v11.4h-1.4zM954.8 239.8h1.4v11.4h-1.4zM957.8 255.8h1.4v16.4h-1.4zM961.8 269.8h1.4v25.4h-1.4zM983.8 218.8h1.4v6.4h-1.4zM1002.8 216.8h1.4v16.4h-1.4zM1024.8 204.8h1.4v2.4h-1.4zM1027.8 207.8h1.4v17.4h-1.4zM1031.8 223.8h1.4v5.4h-1.4zM1053.8 198.8h1.4v7.4h-1.4zM1072.8 190.8h1.4v4.4h-1.4zM1075.8 185.8h1.4v10.4h-1.4zM1079.8 195.8h1.4v2.4h-1.4zM1086.8 192.8h1.4v16.4h-1.4zM1097.8 193.8h1.4v4.4h-1.4zM1116.8 177.8h1.4v1.4h-1.4zM1127.8 167.8h1.4v3.4h-1.4zM1145.8 83.8h1.4v4.4h-1.4zM1149.8 90.8h1.4v18.4h-1.4zM1156.8 107.8h1.4v1.4h-1.4zM1160.8 109.8h1.4v3.4h-1.4zM1167.8 111.8h1.4v26.4h-1.4zM1178.8 130.8h1.4v1.4h-1.4zM1182.8 131.8h1.4v3.4h-1.4z" fill="#942e58"/>
</g>
<text class="w" stroke="#2a2e39" x="1370.5" y="63.7" text-anchor="end" font-size="17" fill="#2a2e39" textLength="108" lengthAdjust="spacingAndGlyphs">0.00% (65.13)</text>
<text class="w" stroke="#2a2e39" x="1370.5" y="176.7" text-anchor="end" font-size="17" fill="#2a2e39" textLength="117" lengthAdjust="spacingAndGlyphs">38.20% (63.83)</text>
<text class="w" stroke="#000" x="1370.5" y="211.7" text-anchor="end" font-size="17" fill="#000" textLength="117" lengthAdjust="spacingAndGlyphs">50.00% (63.43)</text>
<text class="w" stroke="#000" x="1370.5" y="247.5" text-anchor="end" font-size="17" fill="#000" textLength="117" lengthAdjust="spacingAndGlyphs">61.80% (63.02)</text>
<text class="w" stroke="#000" x="1370.5" y="360.8" text-anchor="end" font-size="17" fill="#000" textLength="126.5" lengthAdjust="spacingAndGlyphs">100.00% (61.72)</text>
<line x1="15" y1="396.5" x2="1476" y2="396.5" stroke="#dcdcdc" stroke-width="1"/>
<line x1="15" y1="522.5" x2="1476" y2="522.5" stroke="#dcdcdc" stroke-width="1"/>
<rect x="15" y="428.6" width="1368.5" height="65.9" fill="#ead1fd"/>
<line x1="15.2" y1="428.6" x2="1383" y2="428.6" stroke="#5a5560" stroke-width="1" stroke-dasharray="5 6"/>
<line x1="15.2" y1="494.5" x2="1383" y2="494.5" stroke="#5a5560" stroke-width="1" stroke-dasharray="5 6"/>
<g clip-path="url(#cs)">
<polyline points="14.5,421 17.5,417.1 20.1,414.6 22.6,414.3 25.9,416.8 28.4,421.3 31,428 33.5,436.4 35.5,447.3 37.7,471.6 41,484.2 44.7,500.1 48.9,501 52.8,506.8 56.6,500.1 60.3,494.3 67,487.5 72,477.5 77.9,468.8 82.1,468.3 85.8,467.8 90.1,464.1 93.8,454 98.9,442.3 103.4,433.6 107.3,438.1 110.6,447.3 114.8,462.4 119,480.8 123.2,497.6 126,499.8 130.4,492.6 133.2,495.1 136.6,504.3 141.1,510.2 144.1,507.7 148.3,505.1 152.5,503.8 157.6,503.5 162.6,503 166.8,506 171,508.5 174,510.2 176,497.6 178.5,477.5 181,455.7 184.4,421.3 188.9,412.9 191.1,420.5 192.8,425.5 196.1,431.4 199.1,430.5 204,440.3 207,438.9 211.2,443.6 214.2,435.9 217.1,445.6 221.6,458.2 225,469.1 228.8,470.8 233,475 237.2,478.8 240.5,480.5 243.9,479.2 247.3,471.1 251.4,471.6 255.1,474.1 258.2,484.2 262.1,493.9 265.4,490.9 268.4,472.5 271,450.7 273.8,425.5 277.7,409.6 280.5,410.1 284.4,415.4 288.6,436.4 292.8,450.7 295.6,453.2 298.6,446.5 302.8,441.4 306.2,442.6 310,440.9 313.4,437.2 317.1,438.9 320.4,443.9 324.6,454.8 328.5,462.1 332.2,459.9 335.5,449 339.7,434.2 343.6,432.5 346.9,440.6 351.1,465.7 354.8,475 358.7,483.4 362,486.7 366,498.1 369,499.6 373.2,490.1 376.6,491.2 379.9,498.4 384.1,505.1 387.5,503.5 391.7,504.3 395,507.3 399.2,504.3 404.3,495.9 409.3,489.2 413,490.6 416.8,485.5 420.7,480.8 424.4,477.8 427.7,470.4 431.9,475.8 435.3,472.5 438.6,482.5 442.8,489.2 447.5,491.2 450.4,472.5 454.2,461.6 457.9,470.8 460.4,494.3 465,503 468,492.6 472.2,480.8 475.5,467.4 479.7,462.1 483.1,454.3 487.3,452.3 490,449 495,445.6 500.9,440.6 505.1,433.9 509.3,424.7 513,418.5 516.8,426.3 520.5,434.7 523.5,438.1 527.7,459.4 531.1,455.7 534.9,457 538.6,435.9 542,435.2 546.7,428.9 550.4,422.2 553.7,415.8 557.1,412.9 560.9,410.7 564.6,414.6 568.5,418.5 572.2,420.5 576.4,422.2 580.5,422.2 583.9,424.7 586.9,428.9 590.6,439.8 594.8,447 597.3,462.4 601.5,480.8 604.9,503.5 609.4,495.9 613.2,482.5 616.6,470.4 619.9,478.3 624.1,479.5 627.5,479.2 630.8,475 634.2,475 637.6,486.2 641.7,484.5 645.1,482.8 649.3,474.1 653.5,485 657.3,495.9 660.2,505.7 664.4,503.5 667.7,499.3 671.9,496.8 675.3,495.6 678.6,491.7 682.5,486.7 686.2,489.2 690.4,486.7 693.7,481.7 697.1,470.8 700.4,454.3 704.6,455.4 708,463.2 711.3,469.1 715.5,458.7 718.9,436.4 723.1,427.5 726.4,428.9 730,432.2 735,434.7 740.1,435.2 745.9,437.2 751,446.5 755.2,450.7 758.5,454.8 762.7,467.4 766.6,484.2 770.2,495.1 773.9,503 777.8,501.8 781.6,503.5 785.8,490.1 788.7,495.1 792,485 796.2,484.5 799.6,482.8 803.4,488.4 807.1,501.3 811.3,497.3 814.7,490.1 818.9,475.8 823.1,457.4 826.4,445.6 829.4,438.1 832.6,447.3 836.5,461.6 840.2,473.3 844.5,469.1 847.4,454 850.7,435.6 854.9,415.4 859.4,416.8 862.8,432.2 866.7,436.4 870,437.2 872.9,425.8 877.2,428 880.6,443.9 884.3,439.8 888.5,433.9 892.3,428 896.3,429.7 899.7,428 902.7,422.2 906.9,420.8 910.2,422.2 914.4,423 917.8,425.5 921.1,427.5 925.3,425.8 928.7,424.7 932.9,420.5 936.2,418.5 940.4,423 944.6,422.2 948,421.8 951.3,423.8 953.8,437.2 958,464.1 961.9,490.1 966.1,490.1 968.9,469.1 970,464.1 973.4,437.2 976.7,421.8 980.9,418.8 984.3,423.8 988.4,426.8 992.6,426.3 995.2,424.7 998.5,423.8 1001.9,428.9 1006,431.4 1009.4,433.9 1012.8,429.7 1016.9,422.2 1021.1,418.5 1024.5,428.9 1027.8,447.3 1031.7,480 1035.1,486.7 1038.7,475.8 1042.4,454 1046.3,446.5 1049.6,443.6 1053.8,446.5 1058,454.8 1061.9,460.7 1065.6,450.7 1068.9,440.6 1072.6,430.2 1076.5,435.2 1080.7,438.6 1084,438.1 1088.2,447.3 1091.6,450.7 1095.4,452 1099.1,441.4 1102.8,433.6 1106.7,432.5 1110,432.2 1113.9,429.7 1117.6,424.7 1120.6,421.3 1124.3,425.8 1128.5,428 1131.8,425.8 1135.2,423.8 1138.5,415.1 1142.7,411.3 1145.2,411.8 1148.6,417.1 1153.6,425.8 1158.6,431.9 1162.8,434.7 1167,445.6 1171.2,458.2 1175.9,465.4 1179.3,464.1 1182.9,475.8 1186.6,489.2" fill="none" stroke="#2196f3" stroke-width="1.4" stroke-linejoin="round"/>
<polyline points="14.5,428.4 18.4,422.2 21.7,417.1 25.1,415.4 27.6,416.8 31,421.3 34.8,428.9 36.8,442.3 41,464.1 45.2,487.5 49.4,495.9 53.9,503.5 59.5,501.8 63.7,495.1 67.8,490.1 72.9,481.7 78.7,472.5 84.6,468.8 90.5,466.6 93.8,461.6 98.9,450.7 103.9,439.8 107.6,437.2 111.4,442.3 115.3,451.5 119,467.4 122.7,482.5 126,493.4 130.4,497.1 134.9,495.9 138.3,499.3 143.3,507.7 148.3,507.7 152.5,505.1 157.6,504.3 163.4,502.6 168.5,504.6 174,507.7 177.7,499.3 181.4,487.5 184.4,460.7 188.1,435.6 191.4,419.1 196.1,423 199.1,428 203.7,433.9 207.9,437.2 212,441.4 215.4,440.3 221.6,446.5 225.5,459 231.3,469.9 236.4,475 241.1,479.2 244.7,479.2 248.9,475.8 253.1,472.8 256.5,474.1 260.1,480.8 265.1,489.2 269.8,482.5 273.5,460.7 276.8,437.2 281,416.3 284.9,412.4 288.6,422.2 292.8,437.2 296.9,449.8 302,447.3 307,442.6 312.9,440.9 317.1,439.8 321.3,441.9 325.5,449 328.8,455.7 333,459.4 336.4,454.8 339.7,445.6 343.9,437.2 346.9,435.9 350.6,445.6 354.8,464.1 359,476.6 364,485.9 369,494.6 373.2,496.3 378.3,492.6 382.5,495.9 387.5,502.3 392.5,504.3 397.6,505.1 401.7,504.3 405.9,499.3 410.1,493.4 415.2,490.9 420.2,486.7 424.4,482.5 428.6,475.8 431.9,475.5 435.3,472.5 439.5,479.2 443.7,485 447.5,488.9 452,480.8 457.1,469.1 460.9,476.6 464.6,487.5 468,495.9 472.2,490.9 475.5,479.2 479.7,469.1 483.9,460.7 488.1,455.7 490,453.2 495,449.3 500.1,443.9 505.1,438.9 509.3,431.4 513.5,424.7 516,422.5 520.2,425.8 523.5,433.9 527.7,445.6 531.9,454 535.3,457.7 538.6,449 542.8,438.9 547,432.2 551.2,426.3 555.4,418.8 559.6,413.8 562.9,412.4 567.1,413.8 572.2,418 577.2,420.8 581.4,422.2 585.6,424.7 589.8,430.5 594,438.9 597.3,450.7 601.5,465.7 604.9,484.2 609,494.3 611.6,495.9 615.8,485.9 619.9,477.5 624.1,475.8 627.5,479.2 632.5,477.1 635.9,477.5 640.1,481.2 644.3,484.5 648.5,480.8 651.8,479.2 656.8,484.2 660.2,495.1 664.4,501 667.4,503 671.9,499.6 676.1,497.3 680.3,493.9 684.5,490.6 688.7,488.4 692.9,486.7 697.1,480 701.3,467.4 704.6,459.9 708,457.4 712.2,462.4 715.5,463.2 718.9,452.3 723.1,438.9 726.4,429.7 730,429.7 735,433 740.1,434.7 745.9,435.9 751,441.4 756,448.1 760.2,454.8 764.4,460.7 768.6,475.8 773.9,494.3 777.8,499.3 781.6,502.6 785.8,498.4 789,495.9 792.4,490.1 796.7,488.4 800.1,484.2 803.8,485.9 808.5,492.6 812.2,495.9 814.7,496.3 818.9,487.5 823.1,470.8 827.3,455.7 831.4,443.1 836.5,448.1 840.7,460.7 844.9,466.6 849,459 852.4,447.3 855.8,428.9 859.4,420.5 862.8,422.5 866.7,428.9 870.5,435.9 873.9,432.2 877.6,430.2 881.7,434.7 887.6,439.8 891.8,434.7 896,431.4 900.2,428.9 904.4,425.5 909.4,422.2 913.6,421.8 918.6,423.8 923.7,426.3 928.7,425.8 932.9,423.8 937.9,420.8 942.9,420.8 948,421.8 951.7,423 955.5,433.9 958.9,449 962.2,467.4 966.4,483.4 968.9,482.8 970,480 973.4,464.1 976.7,441.4 980.9,425.5 984.3,421.8 988.4,423 992.6,425.8 996.8,424.7 1000.2,424.2 1005.2,428 1010.2,431.9 1014.4,430.5 1018.6,425.5 1022.8,422.2 1026.2,425.5 1029,433 1032,454 1035.1,472.5 1039.1,480 1042.4,469.1 1046.3,458.2 1050.1,447.3 1053.8,445.6 1058,449 1063.9,455.7 1068.9,450.7 1072.6,441.4 1076.5,434.2 1079.8,433.9 1085.7,438.9 1090.7,446.5 1095.8,450.7 1099.9,446.5 1103.3,441.4 1106.7,436.4 1111.7,432.5 1115.9,429.7 1120.6,426.3 1124.3,424.7 1127.6,424.7 1131.8,427.2 1136,425.5 1139.3,420.5 1142.7,416.3 1146.1,412.4 1150.2,414.6 1154.4,421.3 1159.5,429.7 1164.5,435.2 1168.7,440.6 1172.9,450.7 1177.9,461.6 1182.1,467.4 1185,473.3 1186.6,477.5" fill="none" stroke="#e8702a" stroke-width="1.4" stroke-linejoin="round"/>
</g>
<rect x="15" y="558.6" width="1368.5" height="68.6" fill="#f4e7fe"/>
<line x1="15.2" y1="558.6" x2="1383" y2="558.6" stroke="#b4b0b8" stroke-width="1" stroke-dasharray="5 6"/>
<line x1="15.2" y1="627.2" x2="1383" y2="627.2" stroke="#b4b0b8" stroke-width="1" stroke-dasharray="5 6"/>
<g clip-path="url(#cr)">
<polyline points="14.5,565.5 15,565.2 19.2,563.6 23.1,567.8 26.8,571.6 30.1,562.7 32.6,575.3 34.8,587.9 37.7,622.3 41.9,606.3 45.2,617.2 49.9,628.1 52.8,628.6 55.6,622.3 59.5,620.1 63.3,616.9 67,608.8 70.7,599.6 74.6,597.9 77.9,596.3 82.1,601.8 85.8,605.1 89.6,603.5 93.5,604.1 95.8,610.2 100.5,597.9 103.9,597.4 108.1,606.3 110.9,603 114.8,608.8 118.7,619.7 123.2,620.9 125.7,611.4 130.4,615.5 133.7,621.4 136.6,623.4 140.4,620.6 144.1,618.6 148.3,618.4 151.7,616.9 155.9,617.6 159.2,619.2 163.4,616.4 167.6,622.3 171.3,626.9 174,634.3 176.8,601.3 181,592.1 184.7,587.4 189.1,585 191.9,595.4 196.1,592.1 199.5,581.7 204,609.7 207,589.6 211.2,592.1 214.6,597.1 217.9,603.8 221.6,604.6 225,611.4 229.3,603.8 233,607.2 237.2,614.2 240,602.5 243.9,601 248.1,601.8 252.3,604.1 255.1,600.5 258.2,607.2 262.6,610.8 265.9,597.1 269.8,588.4 273.5,582.3 277.3,576.1 281,578.3 284.9,581.2 288.2,595.1 291.9,592.4 295.3,584 298.6,588.4 302.8,587.4 306.2,585.4 310.4,587.4 313.4,582.8 317.1,584 321.3,586.2 325.5,588.4 328.8,585.7 333,582.3 336.4,577.8 339.7,582 343.6,585 346.4,585.4 350.9,600.5 354,591.7 358.1,594.6 361.5,611.4 365.7,614.2 369.4,609.7 373.6,607.2 376.6,617.2 379.9,620.1 383.8,616.9 387.5,617.2 391.2,618.9 395,621.7 398.4,620.6 402.2,617.2 405.9,617.6 409.3,616.4 414,624.8 416.8,608.8 420.2,604.6 424.4,612.2 427.7,605 431.4,613 435.3,619.7 438.6,623.1 442.5,626.8 446.5,613.9 449.9,594.6 454.2,605.5 457.6,623.9 460.8,629.3 464.6,619.7 468,606.3 472.2,607.5 475.5,598.4 479.7,598.3 483.1,596.3 487.3,595.4 490,592.9 494.2,591.7 497.5,590.1 501.4,593.4 505.1,591.2 508.8,589.6 513,586.2 516,594.6 520.2,595.4 523.5,587 528.1,604.1 531.6,589.6 535.3,582 538.6,570.6 541.6,572.8 545.7,562.2 549,561.6 552.9,559.4 556.6,554.8 560.4,557.7 564.1,563.9 568,566.1 571.8,564.9 575.8,567.8 578.9,565.2 583.1,568.9 586.4,574 589.8,579 594,574.8 597.6,587.9 601.5,596.3 604.9,608 609,590.7 612.4,591.2 616.6,586.2 619.9,600.8 623.8,602.1 627.2,596.8 630,607.5 634.2,603 637.6,608.8 641.7,610.2 645.1,605.8 649.3,606.3 652.3,639 656.8,640.4 660.2,629.3 664.4,628.6 667.4,629.3 670.8,623.9 674.4,623.9 678.1,622.3 682.5,610.5 685.7,621.9 689.5,613 692.9,598.3 697.1,600.1 701.3,603.8 705,608.8 708,618.6 711.3,605.1 715.5,596.8 718.9,593.4 723.1,585.7 726.4,585.4 730,587.4 734.2,588.4 737.5,588.2 741.4,587 745.4,590.7 748.8,597.4 752.1,599.3 756,599.6 759.3,604.1 763.2,604.3 766.6,601.8 770.6,607.2 773.9,615.5 778.6,608.8 781.6,617.6 785.7,598.8 789,608.8 792.9,605.5 796.6,602.5 800.1,611.9 803.8,613 807.1,615.2 811.3,605.8 814.7,606.3 818.5,600.5 822.2,593.4 825.6,592.4 829.3,592.9 832.6,603.8 836.5,605 840.2,606.3 844.4,598.4 847.4,585 851.6,578.7 855.4,570.6 859.4,564.4 862.5,589.1 866.7,577.8 870,573.3 873.9,578.7 877.6,582 880.6,592.4 884.6,571.1 888.5,574 892.3,582.8 895.7,573.6 900.2,573.3 903.5,577 907.7,573.6 910.8,576.1 914.1,578.7 917.8,572.8 921.5,574.8 925.3,572.8 929.2,571.6 932.9,569.4 936.2,564.9 940.4,567.8 943.3,561.6 947.6,560.7 951.3,571.6 955.5,583.4 958.9,593.7 961.7,606.3 965.6,588.7 968.9,578.3 970,576.6 973.4,571.6 976.7,569.4 980.9,570.3 984.3,575 987.6,572.8 991.5,571.6 995.2,573.6 999.3,572.8 1001.9,583.4 1006,580.3 1010.2,577.8 1013.9,573.6 1017.8,569.4 1021.1,567.4 1024.5,571.1 1028.4,583.7 1032,588.4 1035.4,579.5 1039.6,573.6 1043.8,573.1 1047.1,571.9 1050.1,568.9 1054.2,577.8 1057.5,581.2 1061.9,579.5 1064.7,568.3 1069.3,568.9 1072.6,573.6 1077,575.3 1080.3,577 1083.2,573.6 1087.4,589.6 1090.7,582 1094.9,577.3 1098.3,582 1102.5,575 1106.2,578.3 1110,580 1112.9,566.1 1116.2,571.6 1120.1,564.9 1123.9,563.2 1127.9,568.6 1130.6,547.6 1135.2,544.8 1138.5,537.6 1142.7,535.9 1146.1,541.8 1150.2,559.4 1153.6,559.4 1157.8,561 1161.1,563.9 1164.2,563.9 1168.2,585.7 1172,582.8 1175.9,579.8 1179.6,583.4 1183.8,586.2 1186.6,583.7" fill="none" stroke="#851a96" stroke-width="1.35" stroke-linejoin="round"/>
</g>
<rect x="1384" y="8" width="91" height="644" fill="#ffffff"/>
<line x1="1384" y1="396.5" x2="1476" y2="396.5" stroke="#dcdcdc" stroke-width="1"/>
<line x1="1384" y1="522.5" x2="1476" y2="522.5" stroke="#dcdcdc" stroke-width="1"/>
<line x1="1383.5" y1="7" x2="1383.5" y2="700" stroke="#505050" stroke-width="1"/>
<line x1="15" y1="652.5" x2="1476" y2="652.5" stroke="#505050" stroke-width="1"/>
<text class="w" stroke="#555555" x="1398.4" y="94.3" font-size="20" fill="#555555" textLength="50.8" lengthAdjust="spacingAndGlyphs">65.00</text>
<text class="w" stroke="#555555" x="1398.4" y="181.2" font-size="20" fill="#555555" textLength="50.8" lengthAdjust="spacingAndGlyphs">64.00</text>
<text class="w" stroke="#555555" x="1398.4" y="268.4" font-size="20" fill="#555555" textLength="50.8" lengthAdjust="spacingAndGlyphs">63.00</text>
<text class="w" stroke="#555555" x="1398.4" y="355.5" font-size="20" fill="#555555" textLength="50.8" lengthAdjust="spacingAndGlyphs">62.00</text>
<text class="w" stroke="#555555" x="1398.4" y="413.5" font-size="20" fill="#555555" textLength="61.5" lengthAdjust="spacingAndGlyphs">100.00</text>
<text class="w" stroke="#555555" x="1398.4" y="468.0" font-size="20" fill="#555555" textLength="50.8" lengthAdjust="spacingAndGlyphs">50.00</text>
<g clip-path="url(#c0)"><defs><clipPath id="c0"><rect x="1384" y="500" width="92" height="22"/></clipPath></defs>
<text class="w" stroke="#555555" x="1398.4" y="522.1" font-size="20" fill="#555555" textLength="39.6" lengthAdjust="spacingAndGlyphs">0.00</text>
</g>
<text class="w" stroke="#555555" x="1398.4" y="547.2" font-size="20" fill="#555555" textLength="50.8" lengthAdjust="spacingAndGlyphs">80.00</text>
<text class="w" stroke="#555555" x="1398.4" y="616.8" font-size="20" fill="#555555" textLength="50.8" lengthAdjust="spacingAndGlyphs">40.00</text>
<rect x="1385" y="8" width="89" height="83.8" fill="#ffffff"/>
<rect x="1389" y="13" width="79.5" height="74" rx="5" fill="#ffffff" stroke="#f2f2f2" stroke-width="1.1"/>
<text class="w" style="stroke-width:0.5px" stroke="#101010" x="1403.5" y="37.3" font-size="17" fill="#101010" textLength="30.2" lengthAdjust="spacingAndGlyphs">USD</text>
<text class="w" style="stroke-width:0.5px" stroke="#101010" x="1403.5" y="74.3" font-size="17" fill="#101010" textLength="27.8" lengthAdjust="spacingAndGlyphs">BLL</text>
<path d="M1384 118h71a3 3 0 0 1 3 3v25a3 3 0 0 1 -3 3h-71z" fill="#2eb82a"/>
<text x="1398.2" y="141.2" font-size="20.5" fill="#ffffff" stroke="#ffffff" stroke-width="0.8" stroke-linejoin="round" textLength="51.2" lengthAdjust="spacingAndGlyphs">64.48</text>
<text x="82.5" y="682.8" text-anchor="middle" font-size="20.5" fill="#555555" stroke="#555555" stroke-width="0.75" stroke-linejoin="round">7</text>
<text x="229.8" y="682.8" text-anchor="middle" font-size="20.5" fill="#555555" stroke="#555555" stroke-width="0.75" stroke-linejoin="round">10</text>
<text x="336.6" y="682.8" text-anchor="middle" font-size="20.5" fill="#555555" stroke="#555555" stroke-width="0.75" stroke-linejoin="round">12</text>
<text x="506.0" y="682.8" text-anchor="middle" font-size="20.5" fill="#555555" stroke="#555555" stroke-width="0.75" stroke-linejoin="round">14</text>
<text x="653.3" y="682.8" text-anchor="middle" font-size="20.5" fill="#555555" stroke="#555555" stroke-width="0.75" stroke-linejoin="round">17</text>
<text x="760.1" y="682.8" text-anchor="middle" font-size="20.5" fill="#555555" stroke="#555555" stroke-width="0.75" stroke-linejoin="round">19</text>
<text x="929.2" y="682.8" text-anchor="middle" font-size="20.5" fill="#555555" stroke="#555555" stroke-width="0.75" stroke-linejoin="round">21</text>
<text x="1076.7" y="682.8" text-anchor="middle" font-size="20.5" fill="#555555" stroke="#555555" stroke-width="0.75" stroke-linejoin="round">24</text>
<text x="1183.5" y="682.8" text-anchor="middle" font-size="20.5" fill="#555555" stroke="#555555" stroke-width="0.75" stroke-linejoin="round">26</text>
<text x="1352.9" y="682.8" text-anchor="middle" font-size="20.5" fill="#555555" stroke="#555555" stroke-width="0.75" stroke-linejoin="round">28</text>
<g transform="translate(15.1,713.4) scale(0.815)" fill="#131313"><path d="M14.2 24H6.6V13H0V6h14.2z"/><circle cx="20.5" cy="9.7" r="3.6"/><path d="M29.4 24h-8.2l7-18h7.6z"/></g>
<text class="w" stroke="#131313" x="50.2" y="733.8" font-size="19.4" fill="#131313" textLength="105" lengthAdjust="spacingAndGlyphs">TradingView</text>
</svg>
</body></html>
